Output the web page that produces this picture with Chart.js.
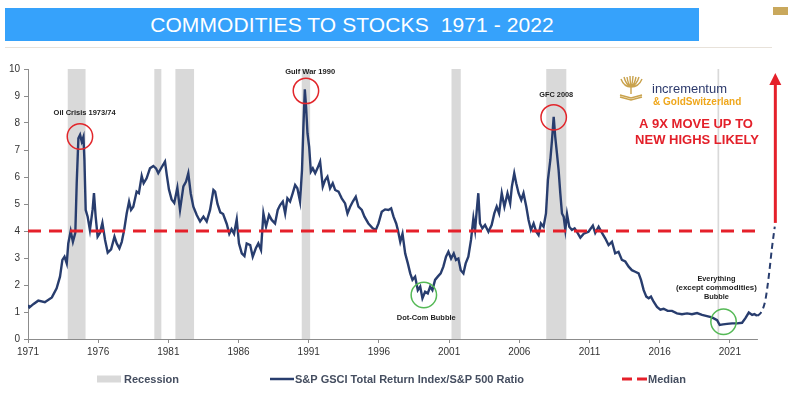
<!DOCTYPE html>
<html>
<head>
<meta charset="utf-8">
<script src="https://cdn.jsdelivr.net/npm/chart.js@4/dist/chart.umd.min.js"></script>
<style>
  html, body { margin: 0; padding: 0; background: #ffffff; }
  #wrap { position: relative; width: 801px; height: 393px; overflow: hidden; background: #fff; }
  #chart { position: absolute; left: 0; top: 0; }
  #title {
    position: absolute; left: 5px; top: 8px; width: 694px; height: 33px;
    background: #36a2fb; color: #ffffff; text-align: center;
    font: 21px "Liberation Sans", Arial, sans-serif; line-height: 34px; letter-spacing: 0.1px;
  }
  #rule { position: absolute; left: 5px; top: 47px; width: 767px; height: 1px; background: #e8e2da; }
  #sq { position: absolute; left: 773px; top: 7px; width: 15px; height: 8px; background: #c9a85c; }
</style>
</head>
<body>
<div id="wrap">
  <canvas id="chart" width="801" height="393"></canvas>
  <div id="title">COMMODITIES TO STOCKS&nbsp; 1971 - 2022</div>
  <div id="rule"></div>
  <div id="sq"></div>
</div>
<script>
// ---- DATA ----
const years = [
  1971.0,1971.1,1971.4,1971.73,1972.2,1972.7,1973.04,1973.28,1973.45,1973.6,1973.76,1973.87,
  1974.04,1974.2,1974.37,1974.47,1974.59,1974.71,1974.83,1974.95,1975.02,1975.11,1975.25,1975.41,
  1975.6,1975.7,1975.82,1975.96,1976.13,1976.3,1976.49,1976.68,1976.92,1977.16,1977.32,1977.51,
  1977.68,1977.85,1978.03,1978.2,1978.34,1978.5,1978.74,1978.9,1979.1,1979.24,1979.45,1979.69,
  1979.93,1980.12,1980.28,1980.52,1980.76,1980.88,1981.04,1981.23,1981.42,1981.64,1981.83,1982.07,
  1982.26,1982.42,1982.59,1982.78,1983.02,1983.26,1983.5,1983.73,1983.97,1984.21,1984.33,1984.5,
  1984.7,1984.9,1985.16,1985.34,1985.5,1985.68,1985.87,1986.03,1986.23,1986.42,1986.58,1986.83,
  1987.01,1987.23,1987.41,1987.6,1987.77,1987.96,1988.17,1988.36,1988.6,1988.79,1988.96,1989.15,
  1989.32,1989.48,1989.67,1989.86,1990.03,1990.19,1990.38,1990.52,1990.62,1990.72,1990.81,1990.91,
  1991.03,1991.15,1991.29,1991.46,1991.62,1991.81,1992.0,1992.17,1992.33,1992.52,1992.71,1992.88,
  1993.12,1993.35,1993.59,1993.76,1993.95,1994.14,1994.35,1994.54,1994.78,1994.97,1995.25,1995.56,
  1995.78,1995.97,1996.2,1996.44,1996.68,1996.87,1997.04,1997.23,1997.35,1997.52,1997.68,1997.87,
  1998.06,1998.23,1998.39,1998.58,1998.77,1998.94,1999.1,1999.29,1999.48,1999.65,1999.81,2000.0,
  2000.19,2000.4,2000.59,2000.78,2000.95,2001.14,2001.33,2001.49,2001.66,2001.83,2002.02,2002.18,
  2002.37,2002.56,2002.73,2002.85,2002.96,2003.08,2003.2,2003.37,2003.56,2003.8,2004.03,2004.22,
  2004.39,2004.56,2004.75,2004.94,2005.16,2005.35,2005.47,2005.64,2005.78,2005.95,2006.14,2006.3,
  2006.5,2006.66,2006.83,2007.02,2007.21,2007.37,2007.54,2007.73,2007.9,2008.04,2008.21,2008.33,
  2008.45,2008.56,2008.68,2008.8,2008.92,2009.04,2009.16,2009.28,2009.4,2009.56,2009.75,2009.94,
  2010.11,2010.35,2010.59,2010.93,2011.24,2011.41,2011.65,2011.89,2012.12,2012.36,2012.6,2012.83,
  2013.07,2013.31,2013.55,2013.79,2014.02,2014.26,2014.5,2014.67,2014.86,2015.05,2015.22,2015.38,
  2015.57,2015.81,2016.05,2016.28,2016.57,2016.88,2017.23,2017.59,2017.95,2018.3,2018.66,2019.02,
  2019.37,2019.73,2020.09,2020.28,2020.52,2020.8,2021.16,2021.52,2021.87,2022.11,2022.35,2022.59,
  2022.75,2022.94
];
const ratio = [
  1.26,1.17,1.30,1.42,1.36,1.54,1.88,2.31,2.93,3.05,2.80,3.54,
  4.00,3.60,3.93,5.77,7.43,7.56,7.31,7.49,6.63,4.78,4.53,4.04,
  4.78,5.40,4.53,3.79,3.93,4.30,3.67,3.20,3.32,3.79,3.54,3.36,
  3.60,4.04,4.65,5.09,4.78,4.90,5.46,5.40,6.04,5.77,5.95,6.32,
  6.41,6.32,6.14,6.36,6.57,6.10,5.54,5.17,5.04,5.60,4.78,5.65,
  5.83,6.14,5.40,4.90,4.59,4.35,4.53,4.35,4.78,5.52,5.46,5.00,
  4.69,4.63,4.26,3.90,4.07,3.90,4.43,3.54,3.17,3.07,3.54,3.48,
  3.05,3.36,3.54,3.30,4.65,4.16,4.59,4.41,4.28,4.78,4.96,5.09,
  4.65,5.21,5.09,5.40,5.70,5.58,5.09,6.26,7.86,9.25,8.60,7.62,
  7.12,6.20,6.32,6.14,6.32,6.57,5.64,5.89,6.01,5.58,5.77,5.52,
  5.46,5.21,5.02,4.65,4.90,5.09,5.27,4.90,4.78,4.53,4.28,4.10,
  4.04,4.28,4.71,4.80,4.78,4.84,4.53,4.28,4.04,3.60,3.90,3.17,
  2.80,2.43,2.19,2.31,1.81,1.94,1.51,1.75,1.69,1.94,1.81,2.19,
  2.31,2.43,2.68,3.05,3.23,2.98,3.17,2.93,2.98,2.55,2.43,2.80,
  3.05,3.67,4.47,4.04,4.71,5.40,4.28,4.10,4.22,3.97,4.22,4.65,
  4.90,4.65,5.40,4.90,5.40,5.02,5.64,6.14,5.77,5.40,5.15,5.40,
  4.90,4.41,4.04,4.28,3.97,3.85,4.28,4.16,4.65,5.89,6.63,7.37,
  8.23,7.49,6.88,6.26,5.40,4.65,4.53,4.04,4.63,4.16,4.04,4.10,
  3.97,3.75,3.90,3.97,4.20,3.93,4.16,3.93,3.73,3.48,3.60,3.17,
  3.23,2.93,2.87,2.68,2.55,2.49,2.43,2.19,1.81,1.57,1.51,1.57,
  1.38,1.19,1.09,1.12,1.04,1.04,0.95,0.92,0.95,0.92,0.96,0.89,
  0.85,0.80,0.70,0.52,0.54,0.56,0.58,0.58,0.60,0.77,0.98,0.89,
  0.92,0.86
];
const projYears  = [2022.94, 2023.18, 2023.53, 2023.77, 2024.01, 2024.2];
const projValues = [0.86, 0.95, 1.44, 2.31, 3.42, 4.16];
const medianValue = 4;
const medianYears = [1971, 2023];
const recessionStart = [1973.83, 1980.0, 1981.5, 1990.5, 2001.17, 2007.92, 2020.12];
const recessionEnd   = [1975.1, 1980.5, 1982.83, 1991.1, 2001.83, 2009.35, 2020.24];
const xTickYears = [1971, 1976, 1981, 1986, 1991, 1996, 2001, 2006, 2011, 2016, 2021];
const yTickValues = [0,1,2,3,4,5,6,7,8,9,10];
const arrowYear = 2024.24, arrowFrom = 4.3, arrowTo = 9.85;
const axisEndYear = 2023;

// annotation placements (data coords)
const circles = [
  {x: 1974.7,  y: 7.5,  c: '#e2262b'},
  {x: 1990.8,  y: 9.19, c: '#e2262b'},
  {x: 2008.45, y: 8.21, c: '#e2262b'},
  {x: 1999.2,  y: 1.63, c: '#55b956'},
  {x: 2020.55, y: 0.64, c: '#55b956'}
];
const labels = [
  {t: 'Oil Crisis 1973/74', x: 1975.03, y: 8.37, w: 62},
  {t: 'Gulf War 1990', x: 1991.1, y: 9.9, w: 50},
  {t: 'GFC 2008', x: 2008.63, y: 9.04, w: 34},
  {t: 'Dot-Com Bubble', x: 1999.37, y: 0.78, w: 59},
  {t: 'Everything', x: 2020.04, y: 2.22, w: 38},
  {t: '(except commodities)', x: 2020.04, y: 1.89, w: 81},
  {t: 'Bubble', x: 2020.04, y: 1.56, w: 25}
];

const FONT = '"Liberation Sans", Arial, sans-serif';
const NAVY = '#283d6e';
const RED = '#e5202a';

const overlay = {
  id: 'overlay',
  beforeDatasetsDraw(chart) {
    const {ctx, scales: {x, y}} = chart;
    ctx.save();
    ctx.fillStyle = '#d9d9d9';
    const top = y.getPixelForValue(10), bot = y.getPixelForValue(0);
    recessionStart.forEach((s, i) => {
      const x0 = x.getPixelForValue(s), x1 = x.getPixelForValue(recessionEnd[i]);
      ctx.fillRect(x0, top, Math.max(x1 - x0, 1.2), bot - top);
    });
    ctx.strokeStyle = '#8c8c8c';
    ctx.lineWidth = 1;
    ctx.beginPath();
    const ay = Math.round(bot) + 0.5;
    ctx.moveTo(x.getPixelForValue(1971), ay);
    ctx.lineTo(x.getPixelForValue(axisEndYear), ay);
    ctx.stroke();
    ctx.restore();
  },
  afterDatasetsDraw(chart) {
    const {ctx, scales: {x, y}} = chart;
    ctx.save();
    // circles
    circles.forEach(c => {
      ctx.beginPath();
      ctx.strokeStyle = c.c;
      ctx.lineWidth = 1.5;
      ctx.arc(x.getPixelForValue(c.x), y.getPixelForValue(c.y), 12.7, 0, Math.PI * 2);
      ctx.stroke();
    });
    // labels
    ctx.fillStyle = '#1e1e1e';
    ctx.font = 'bold 8px ' + FONT;
    ctx.textAlign = 'center';
    ctx.textBaseline = 'middle';
    labels.forEach(l => {
      ctx.fillText(l.t, x.getPixelForValue(l.x), y.getPixelForValue(l.y), l.w);
    });
    // arrow
    const ax = x.getPixelForValue(arrowYear);
    const ayTop = y.getPixelForValue(arrowTo);
    const ayBot = y.getPixelForValue(arrowFrom);
    ctx.strokeStyle = RED;
    ctx.fillStyle = RED;
    ctx.lineWidth = 3;
    ctx.beginPath();
    ctx.moveTo(ax, ayBot);
    ctx.lineTo(ax, ayTop + 10);
    ctx.stroke();
    ctx.beginPath();
    ctx.moveTo(ax, ayTop);
    ctx.lineTo(ax - 6, ayTop + 12);
    ctx.lineTo(ax + 6, ayTop + 12);
    ctx.closePath();
    ctx.fill();
    ctx.restore();
  },
  afterDraw(chart) {
    const {ctx} = chart;
    ctx.save();
    // logo tree
    ctx.strokeStyle = '#c9a24c';
    ctx.lineWidth = 1.4;
    const tx = 631, ty = 98;
    ctx.beginPath();
    ctx.moveTo(tx, ty - 4); ctx.lineTo(tx, ty - 12);
    const tips = [[621,79],[624,77],[627,77],[630,76],[633,76],[636,77],[639,77],[642,79]];
    tips.forEach(([px, py]) => { ctx.moveTo(tx, ty - 11); ctx.quadraticCurveTo(px + (tx - px) * 0.3, py + 8, px, py); });
    ctx.stroke();
    ctx.beginPath();
    ctx.moveTo(620, ty - 3); ctx.lineTo(631, ty); ctx.lineTo(642, ty - 3);
    ctx.moveTo(620, ty - 1); ctx.lineTo(631, ty + 2); ctx.lineTo(642, ty - 1);
    ctx.stroke();
    // logo text
    ctx.textAlign = 'left';
    ctx.textBaseline = 'middle';
    ctx.fillStyle = '#2d3a6c';
    ctx.font = '13px ' + FONT;
    ctx.fillText('incrementum', 652, 89, 75);
    ctx.fillStyle = '#efa71c';
    ctx.font = 'bold 10px ' + FONT;
    ctx.fillText('& GoldSwitzerland', 653, 102, 96);
    // red headline
    ctx.textAlign = 'center';
    ctx.fillStyle = '#e3202a';
    ctx.font = 'bold 13px ' + FONT;
    ctx.fillText('A 9X MOVE UP TO', 696, 124, 118);
    ctx.fillText('NEW HIGHS LIKELY', 697, 140, 129);
    // legend
    const ly = 379;
    ctx.fillStyle = '#d9d9d9';
    ctx.fillRect(97, ly - 3.5, 24, 7);
    ctx.strokeStyle = NAVY;
    ctx.lineWidth = 2.5;
    ctx.beginPath(); ctx.moveTo(270, ly); ctx.lineTo(294, ly); ctx.stroke();
    ctx.strokeStyle = RED;
    ctx.lineWidth = 3;
    ctx.beginPath(); ctx.moveTo(622, ly); ctx.lineTo(632, ly); ctx.moveTo(637, ly); ctx.lineTo(647, ly); ctx.stroke();
    ctx.fillStyle = '#454e60';
    ctx.font = 'bold 11px ' + FONT;
    ctx.textAlign = 'left';
    ctx.fillText('Recession', 124, ly + 0.5);
    ctx.fillText('S&P GSCI Total Return Index/S&P 500 Ratio', 295, ly + 0.5, 236);
    ctx.fillText('Median', 648, ly + 0.5);
    ctx.restore();
  }
};

new Chart(document.getElementById('chart'), {
  type: 'line',
  data: {
    datasets: [
      {
        label: 'S&P GSCI Total Return Index/S&P 500 Ratio',
        data: years.map((yr, i) => ({x: yr, y: ratio[i]})),
        borderColor: NAVY, borderWidth: 2.4, pointRadius: 0, tension: 0, order: 2
      },
      {
        label: 'Median',
        data: medianYears.map(yr => ({x: yr, y: medianValue})),
        borderColor: RED, borderWidth: 3, borderDash: [13, 8], pointRadius: 0, order: 1
      },
      {
        label: 'Projection',
        data: projYears.map((yr, i) => ({x: yr, y: projValues[i]})),
        borderColor: NAVY, borderWidth: 2, borderDash: [6, 4], pointRadius: 0,
        cubicInterpolationMode: 'monotone', order: 2
      }
    ]
  },
  options: {
    responsive: false,
    animation: false,
    devicePixelRatio: 1,
    layout: {padding: {left: 0, right: 15, top: 69, bottom: 0}},
    plugins: {legend: {display: false}, tooltip: {enabled: false}},
    scales: {
      x: {
        type: 'linear', min: 1971, max: 2025,
        afterBuildTicks(scale) { scale.ticks = xTickYears.map(v => ({value: v})); },
        afterFit(scale) { scale.height = 54; },
        border: {display: false},
        grid: {drawOnChartArea: false, drawTicks: true, tickLength: 4, color: '#8c8c8c'},
        ticks: {
          padding: 3, color: '#333333', font: {size: 10, family: FONT},
          maxRotation: 0, autoSkip: false,
          callback: v => String(v)
        }
      },
      y: {
        type: 'linear', min: 0, max: 10,
        afterBuildTicks(scale) { scale.ticks = yTickValues.map(v => ({value: v})); },
        afterFit(scale) { scale.width = 28; },
        border: {display: true, color: '#8c8c8c', width: 1},
        grid: {drawOnChartArea: false, drawTicks: true, tickLength: 4, color: '#8c8c8c'},
        ticks: {padding: 4, color: '#333333', font: {size: 10, family: FONT}}
      }
    }
  },
  plugins: [overlay]
});
</script>
</body>
</html>
